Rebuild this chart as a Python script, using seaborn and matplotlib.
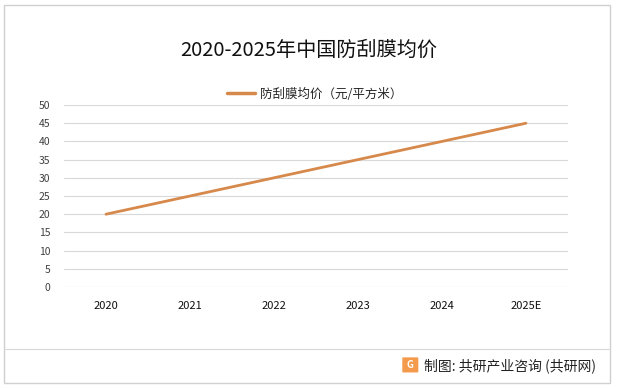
import numpy as np
import pandas as pd
import matplotlib.pyplot as plt
import seaborn as sns
from matplotlib.patches import Rectangle, FancyBboxPatch
from matplotlib.lines import Line2D

# data
years = ["2020", "2021", "2022", "2023", "2024", "2025E"]
price = [20, 25, 30, 35, 40, 45]
series_name = "防刮膜均价（元/平方米）"

df = pd.DataFrame({"year": years, "price": price})

sns.set_style("white")
plt.rcParams['font.family'] = ['Noto Sans CJK SC', 'DejaVu Sans']

fig = plt.figure(figsize=(6.17, 3.88), dpi=100)
ax = fig.add_axes([0.1037, 0.2603, 0.8168, 0.469])

line_color = "#D6894B"
sns.lineplot(data=df, x="year", y="price", ax=ax, color=line_color,
             linewidth=2.0, sort=False)

ax.set_ylim(0, 50)
ax.set_yticks(np.arange(0, 51, 5))
ax.set_xlim(-0.5, len(years) - 0.5)
ax.set_xlabel("")
ax.set_ylabel("")
ax.grid(axis="y", color="#D9D9D9", linewidth=0.8)
ax.set_axisbelow(True)
for s in ax.spines.values():
    s.set_visible(False)
ax.tick_params(axis="y", length=0, labelsize=7.5, labelcolor="#404040", pad=10)
ax.tick_params(axis="x", length=0, labelsize=8, labelcolor="#111111", pad=10)

# title and legend
fig.text(0.5, 0.87, "2020-2025年中国防刮膜均价", ha="center", va="center",
         fontsize=14.5, color="#111111")
leg_handle = Line2D([0], [0], color=line_color, linewidth=2.5)
fig.legend([leg_handle], [series_name], loc="center", bbox_to_anchor=(0.51, 0.757),
           frameon=False, fontsize=9, handlelength=2.2, handletextpad=0.4)

# outer frame and footer separator
fig.patches.append(Rectangle((0.007, 0.013), 0.982, 0.975, transform=fig.transFigure,
                             fill=False, edgecolor="#D0D0D0", linewidth=1.0))
fig.lines.append(Line2D([0.007, 0.989], [0.101, 0.101], transform=fig.transFigure,
                        color="#D9D9D9", linewidth=0.8))

# footer logo + source
fig.patches.append(FancyBboxPatch((0.654, 0.042), 0.022, 0.035,
                                  boxstyle="round,pad=0.002", transform=fig.transFigure,
                                  facecolor="#F39A4C", edgecolor="none"))
fig.text(0.665, 0.059, "G", ha="center", va="center", fontsize=7,
         color="white", fontweight="bold")
fig.text(0.966, 0.058, "制图: 共研产业咨询 (共研网)", ha="right", va="center",
         fontsize=10, color="#222222")

fig.savefig("out.png", dpi=100)
